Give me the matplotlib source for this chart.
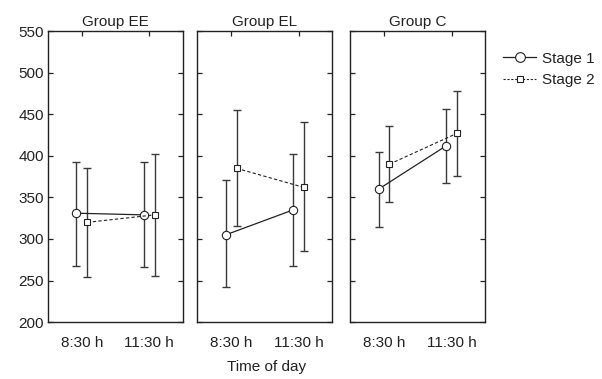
import matplotlib
matplotlib.use("Agg")
import matplotlib.pyplot as plt
from matplotlib.lines import Line2D

plt.rcParams['font.family'] = ['Liberation Sans', 'DejaVu Sans']
plt.rcParams['font.size'] = 11
plt.rcParams['text.color'] = '#222222'
plt.rcParams['xtick.color'] = '#222222'
plt.rcParams['ytick.color'] = '#222222'

groups = ['Group EE', 'Group EL', 'Group C']
times = ['8:30 h', '11:30 h']

# means, lower and upper ends of the error bars, per group, per time
stage1_mean = [[331, 329], [305, 335], [360, 412]]
stage1_low = [[268, 266], [242, 268], [314, 367]]
stage1_high = [[393, 393], [371, 402], [404, 456]]
stage2_mean = [[320, 329], [385, 362], [390, 427]]
stage2_low = [[254, 255], [316, 286], [345, 376]]
stage2_high = [[385, 402], [455, 441], [436, 478]]

fig = plt.figure(figsize=(6.02, 3.79), dpi=100)
lefts = [0.080, 0.328, 0.582]
width = 0.224
bottom = 0.150
height = 0.768

offs = 0.08
for i, g in enumerate(groups):
    ax = fig.add_axes([lefts[i], bottom, width, height])
    x1 = [j - offs for j in range(2)]
    x2 = [j + offs for j in range(2)]
    e1 = [[m - lo for m, lo in zip(stage1_mean[i], stage1_low[i])],
          [hi - m for m, hi in zip(stage1_mean[i], stage1_high[i])]]
    e2 = [[m - lo for m, lo in zip(stage2_mean[i], stage2_low[i])],
          [hi - m for m, hi in zip(stage2_mean[i], stage2_high[i])]]
    ax.errorbar(x1, stage1_mean[i], yerr=e1, fmt='none', ecolor='#3a3a3a',
                elinewidth=1, capsize=2.6, capthick=1, zorder=2)
    ax.errorbar(x2, stage2_mean[i], yerr=e2, fmt='none', ecolor='#3a3a3a',
                elinewidth=1, capsize=2.6, capthick=1, zorder=2)
    ax.plot(x1, stage1_mean[i], '-', color='#222222', lw=0.9, marker='o',
            ms=6, mfc='white', mec='#222222', mew=0.8, zorder=3)
    ax.plot(x2, stage2_mean[i], '--', color='#222222', lw=0.8, marker='s',
            ms=4.5, mfc='white', mec='#222222', mew=0.8, dashes=(3, 2), zorder=3)

    ax.set_xlim(-0.5, 1.5)
    ax.set_ylim(200, 550)
    ax.set_xticks([0, 1])
    ax.set_xticklabels(times)
    ax.set_yticks(range(200, 551, 50))
    ax.tick_params(axis='x', direction='in', top=True, bottom=False,
                   length=3.5, width=0.9, pad=10, labelsize=11)
    ax.tick_params(axis='y', direction='in', left=True, right=True,
                   length=3.5, width=0.9, labelsize=11, pad=3)
    if i > 0:
        ax.set_yticklabels([])
    for sp in ax.spines.values():
        sp.set_linewidth(1.0)
        sp.set_color('#222222')
    ax.set_title(g, fontsize=11, pad=4)

fig.text(0.442, 0.012, 'Time of day', ha='center', va='bottom', fontsize=11)

handles = [
    Line2D([], [], ls='-', color='#222222', lw=0.9, marker='o', ms=7,
           mfc='white', mec='#222222', mew=0.8),
    Line2D([], [], ls='--', color='#222222', lw=0.8, marker='s', ms=5,
           mfc='white', mec='#222222', mew=0.8, dashes=(2, 1.5)),
]
fig.legend(handles, ['Stage 1', 'Stage 2'], loc='upper left',
           bbox_to_anchor=(0.825, 0.88), frameon=False, fontsize=11,
           handlelength=2.2, handletextpad=0.4, labelspacing=0.5,
           borderaxespad=0)

fig.savefig('out.png', dpi=100)
